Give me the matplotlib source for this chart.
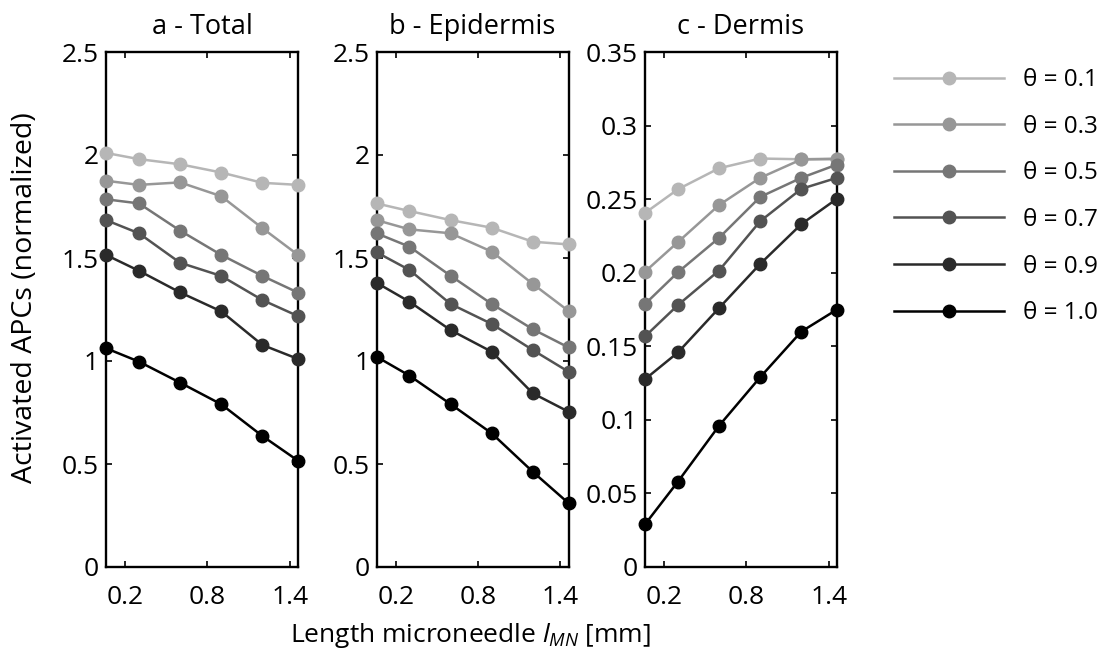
import numpy as np
import matplotlib
matplotlib.use("Agg")
import matplotlib.pyplot as plt

FS = 19
plt.rcParams.update({
    "font.family": ["Open Sans", "DejaVu Sans"],
    "mathtext.fontset": "custom",
    "mathtext.rm": "Open Sans",
    "mathtext.it": "Open Sans:italic",
    "font.size": FS,
})

# ── data ─────────────────────────────────────────────────────────────────────
length_mn = [0.06, 0.3, 0.6, 0.9, 1.2, 1.46]
thetas = ["0.1", "0.3", "0.5", "0.7", "0.9", "1.0"]
colors = ["#b6b6b6", "#979797", "#767676", "#535353", "#2a2a2a", "#000000"]

total = [
    [2.01, 1.98, 1.955, 1.915, 1.865, 1.855],
    [1.875, 1.855, 1.867, 1.80, 1.645, 1.515],
    [1.785, 1.765, 1.633, 1.515, 1.413, 1.332],
    [1.684, 1.62, 1.477, 1.413, 1.296, 1.218],
    [1.515, 1.438, 1.333, 1.241, 1.078, 1.01],
    [1.062, 0.997, 0.895, 0.79, 0.636, 0.516],
]
epidermis = [
    [1.765, 1.728, 1.684, 1.647, 1.579, 1.566],
    [1.684, 1.639, 1.62, 1.531, 1.374, 1.243],
    [1.62, 1.555, 1.414, 1.277, 1.154, 1.066],
    [1.528, 1.442, 1.277, 1.18, 1.053, 0.948],
    [1.38, 1.288, 1.15, 1.045, 0.843, 0.754],
    [1.021, 0.929, 0.791, 0.649, 0.462, 0.31],
]
dermis = [
    [0.2406, 0.2567, 0.271, 0.2776, 0.2771, 0.2776],
    [0.2007, 0.2208, 0.246, 0.2645, 0.277, 0.2772],
    [0.1787, 0.2003, 0.2237, 0.2515, 0.2645, 0.2735],
    [0.1567, 0.178, 0.2015, 0.235, 0.257, 0.2645],
    [0.1276, 0.1458, 0.176, 0.206, 0.233, 0.2503],
    [0.029, 0.058, 0.096, 0.129, 0.160, 0.175],
]

panels = [
    ("a - Total", total, [0, 0.5, 1, 1.5, 2, 2.5], ["0", "0.5", "1", "1.5", "2", "2.5"]),
    ("b - Epidermis", epidermis, [0, 0.5, 1, 1.5, 2, 2.5], ["0", "0.5", "1", "1.5", "2", "2.5"]),
    ("c - Dermis", dermis, [0, 0.05, 0.1, 0.15, 0.2, 0.25, 0.3, 0.35],
     ["0", "0.05", "0.1", "0.15", "0.2", "0.25", "0.3", "0.35"]),
]
xticks = [0.2, 0.8, 1.4]

fig = plt.figure(figsize=(11.06, 6.62), dpi=100)
lefts = [106, 376.5, 645]
W, H = 1106, 662
axes = []
for (title, data, yt, ytl), lx in zip(panels, lefts):
    ax = fig.add_axes([lx / W, (H - 567) / H, 192 / W, 515 / H])
    for vals, col in zip(data, colors):
        ax.plot(length_mn, vals, "-o", color=col, lw=1.8, ms=9, clip_on=False, zorder=3)
    ax.set_xlim(0.06, 1.46)
    ax.set_ylim(yt[0], yt[-1])
    ax.set_xticks(xticks)
    ax.set_xticklabels([f"{v:.1f}" for v in xticks])
    ax.set_yticks(yt)
    ax.set_yticklabels(ytl)
    ax.tick_params(direction="in", top=True, right=True, length=4, width=1.2,
                   labelsize=FS)
    ax.tick_params(axis="y", pad=5)
    ax.tick_params(axis="x", pad=13)
    for sp in ax.spines.values():
        sp.set_linewidth(1.7)
    ax.set_title(title, fontsize=FS + 0.5, pad=13)
    axes.append(ax)

fig.text(25 / W, 1 - 298 / H, "Activated APCs (normalized)", rotation=90,
         ha="center", va="center", fontsize=20.5)
fig.text(470 / W, 1 - 636 / H, r"Length microneedle $l_{MN}$ [mm]",
         ha="center", va="center", fontsize=FS)

handles = axes[0].get_lines()
fig.legend(handles, [f"θ = {t}" for t in thetas], loc="upper left",
           bbox_to_anchor=(882 / W, 1 - 56 / H), frameon=False, borderpad=0,
           handlelength=4.5, handletextpad=0.8, labelspacing=0.93,
           fontsize=17.5, markerscale=1.0)

fig.savefig("out.png", dpi=100, facecolor="white")
